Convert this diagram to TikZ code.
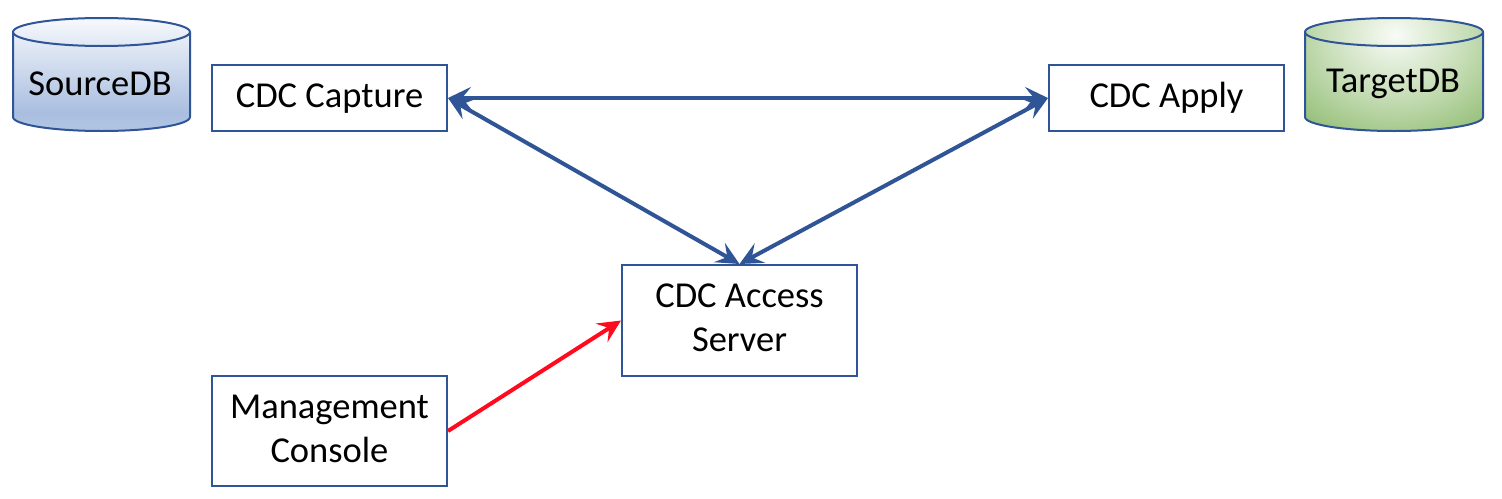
\documentclass[tikz,border=0pt]{standalone}
\usepackage{fontspec}
\setmainfont{Carlito}
\usetikzlibrary{arrows.meta}
\definecolor{edgeblue}{HTML}{2F5597}
\definecolor{redline}{HTML}{FF0A1E}
\definecolor{srcA}{HTML}{F7F9FC}
\definecolor{srcB}{HTML}{A9BEE0}
\definecolor{srcC}{HTML}{B2C5E3}
\definecolor{tgtA}{HTML}{F8FBF6}
\definecolor{tgtB}{HTML}{C6DDB6}
\definecolor{tgtC}{HTML}{86B665}
\pgfdeclareverticalshading{srcshade}{100bp}{color(0bp)=(srcC); color(25bp)=(srcC); color(33bp)=(srcB); color(75bp)=(srcA); color(100bp)=(srcA)}
\pgfdeclareradialshading{tgtshade}{\pgfpoint{0bp}{0bp}}{color(0bp)=(tgtA); color(14bp)=(tgtB); color(30bp)=(tgtC); color(50bp)=(tgtC)}
\tikzset{
  boxnode/.style={draw=edgeblue,line width=2pt,fill=white,minimum width=235pt,align=center,inner sep=0pt,font=\fontsize{36.5}{44}\selectfont},
  onebox/.style={boxnode,minimum height=66pt,text height=26.5pt,text depth=7pt},
  twobox/.style={boxnode,text depth=5pt},
  dbtext/.style={inner sep=0pt,font=\fontsize{36.5}{40}\selectfont},
  dbline/.style={draw=edgeblue,line width=2pt},
  link/.style={edgeblue,line width=4pt,{Stealth[length=23pt,width=22pt,inset=9pt]}-{Stealth[length=23pt,width=22pt,inset=9pt]}},
  onelink/.style={redline,line width=4pt,-{Stealth[length=23pt,width=22pt,inset=9pt]}}
}
\begin{document}
\begin{tikzpicture}[x=1pt,y=-1pt]
\useasboundingbox (0,0) rectangle (1502,498);
% SourceDB
\path[shading=srcshade] (13,32) arc[start angle=180,end angle=360,x radius=88.5,y radius=14] -- (190,117) arc[start angle=0,end angle=180,x radius=88.5,y radius=14] -- cycle;
\draw[dbline] (13,32) arc[start angle=180,end angle=360,x radius=88.5,y radius=14] -- (190,117) arc[start angle=0,end angle=180,x radius=88.5,y radius=14] -- cycle;
\draw[dbline] (13,32) arc[start angle=180,end angle=0,x radius=88.5,y radius=14];
\node[dbtext] (src) at (100,84) {SourceDB};
% TargetDB
\begin{scope}
\clip (1305,32) arc[start angle=180,end angle=360,x radius=89,y radius=14] -- (1483,117) arc[start angle=0,end angle=180,x radius=89,y radius=14] -- cycle;
\path[shading=tgtshade] (1265,-75) rectangle (1525,145);
\end{scope}
\draw[dbline] (1305,32) arc[start angle=180,end angle=360,x radius=89,y radius=14] -- (1483,117) arc[start angle=0,end angle=180,x radius=89,y radius=14] -- cycle;
\draw[dbline] (1305,32) arc[start angle=180,end angle=0,x radius=89,y radius=14];
\node[dbtext] (tgt) at (1393,84) {TargetDB};
% boxes
\node[onebox] (cap) at (329.5,98) {CDC Capture};
\node[onebox] (app) at (1166.5,98) {CDC Apply};
\node[twobox,minimum height=111pt] (acc) at (739.5,320.5) {CDC Access\\Server};
\node[twobox,minimum height=110pt] (mgt) at (329.5,431) {Management\\Console};
% connectors
\draw[link] (cap.east) -- (app.west);
\draw[link] (cap.east) -- (acc.north);
\draw[link] (app.west) -- (acc.north);
\draw[onelink] (mgt.east) -- (acc.west);
\end{tikzpicture}
\end{document}
